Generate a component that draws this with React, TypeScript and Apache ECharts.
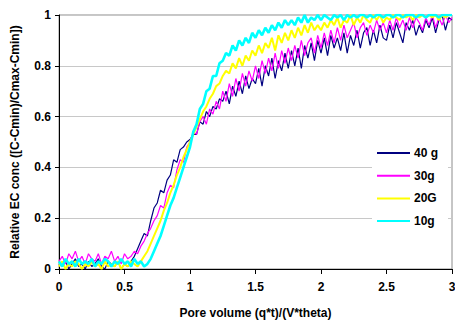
import React, { useEffect, useRef } from "react";
import * as echarts from "echarts";

const poreVolume = [
  0, 0.025, 0.05, 0.075, 0.1, 0.125, 0.15, 0.175, 0.2, 0.225,
  0.25, 0.275, 0.3, 0.325, 0.35, 0.375, 0.4, 0.425, 0.45, 0.475,
  0.5, 0.525, 0.55, 0.575, 0.6, 0.625, 0.65, 0.675, 0.7, 0.725,
  0.75, 0.775, 0.8, 0.825, 0.85, 0.875, 0.9, 0.925, 0.95, 0.975,
  1.0, 1.025, 1.05, 1.075, 1.1, 1.125, 1.15, 1.175, 1.2, 1.225,
  1.25, 1.275, 1.3, 1.325, 1.35, 1.375, 1.4, 1.425, 1.45, 1.475,
  1.5, 1.525, 1.55, 1.575, 1.6, 1.625, 1.65, 1.675, 1.7, 1.725,
  1.75, 1.775, 1.8, 1.825, 1.85, 1.875, 1.9, 1.925, 1.95, 1.975,
  2.0, 2.025, 2.05, 2.075, 2.1, 2.125, 2.15, 2.175, 2.2, 2.225,
  2.25, 2.275, 2.3, 2.325, 2.35, 2.375, 2.4, 2.425, 2.45, 2.475,
  2.5, 2.525, 2.55, 2.575, 2.6, 2.625, 2.65, 2.675, 2.7, 2.725,
  2.75, 2.775, 2.8, 2.825, 2.85, 2.875, 2.9, 2.925, 2.95, 2.975,
  3.0,
];

const conc40g = [
  0.02, 0.01, 0.03, 0.00, 0.02, 0.04, 0.01, 0.02, 0.00, 0.03,
  0.01, 0.02, 0.04, 0.01, 0.00, 0.03, 0.02, 0.01, 0.03, 0.00,
  0.02, 0.01, 0.03, 0.05, 0.08, 0.11, 0.14, 0.13, 0.19, 0.24,
  0.26, 0.31, 0.30, 0.35, 0.37, 0.43, 0.42, 0.47, 0.48, 0.50,
  0.51, 0.53, 0.53, 0.58, 0.57, 0.62, 0.60, 0.64, 0.63, 0.67,
  0.66, 0.70, 0.65, 0.72, 0.68, 0.74, 0.69, 0.76, 0.71, 0.75,
  0.73, 0.79, 0.72, 0.80, 0.76, 0.83, 0.75, 0.82, 0.78, 0.85,
  0.79, 0.86, 0.80, 0.87, 0.79, 0.88, 0.83, 0.89, 0.82, 0.90,
  0.85, 0.91, 0.84, 0.92, 0.87, 0.91, 0.86, 0.93, 0.85, 0.92,
  0.88, 0.94, 0.87, 0.93, 0.95, 0.88, 0.94, 0.89, 0.96, 0.91,
  0.90, 0.96, 0.91, 0.97, 0.93, 0.89, 0.97, 0.94, 0.98, 0.92,
  0.96, 0.93, 0.98, 0.95, 0.99, 0.93, 0.98, 1.00, 0.94, 0.99,
  0.98,
];

const conc30g = [
  0.03, 0.05, 0.02, 0.06, 0.04, 0.07, 0.03, 0.05, 0.02, 0.06,
  0.04, 0.03, 0.06, 0.02, 0.05, 0.04, 0.07, 0.03, 0.05, 0.02,
  0.06, 0.04, 0.05, 0.07, 0.06, 0.09, 0.11, 0.14, 0.16, 0.19,
  0.21, 0.25, 0.24, 0.30, 0.33, 0.32, 0.39, 0.43, 0.42, 0.48,
  0.50, 0.54, 0.53, 0.58, 0.60, 0.57, 0.63, 0.61, 0.66, 0.63,
  0.70, 0.66, 0.73, 0.68, 0.75, 0.70, 0.77, 0.72, 0.78, 0.74,
  0.80, 0.75, 0.82, 0.77, 0.83, 0.78, 0.85, 0.79, 0.86, 0.81,
  0.87, 0.82, 0.88, 0.83, 0.90, 0.84, 0.89, 0.91, 0.85, 0.92,
  0.87, 0.93, 0.88, 0.94, 0.89, 0.95, 0.90, 0.96, 0.91, 0.94,
  0.97, 0.91, 0.95, 0.97, 0.92, 0.96, 0.93, 0.98, 0.94, 0.97,
  0.93, 0.98, 0.94, 0.99, 0.95, 0.98, 0.94, 0.99, 0.95, 0.99,
  0.97, 0.94, 0.99, 0.96, 1.00, 0.95, 0.99, 0.96, 1.00, 0.97,
  0.99,
];

const conc20G = [
  0.01, 0.03, 0.00, 0.02, 0.01, 0.03, 0.02, 0.00, 0.02, 0.01,
  0.03, 0.01, 0.02, 0.00, 0.03, 0.01, 0.02, 0.01, 0.03, 0.00,
  0.02, 0.01, 0.03, 0.02, 0.01, 0.03, 0.05, 0.07, 0.10, 0.13,
  0.16, 0.19, 0.23, 0.26, 0.30, 0.33, 0.37, 0.40, 0.44, 0.47,
  0.50, 0.53, 0.56, 0.59, 0.62, 0.64, 0.67, 0.69, 0.72, 0.73,
  0.76, 0.78, 0.77, 0.81, 0.79, 0.83, 0.80, 0.84, 0.82, 0.86,
  0.84, 0.88, 0.85, 0.89, 0.87, 0.91, 0.86, 0.92, 0.89, 0.93,
  0.90, 0.94, 0.91, 0.95, 0.92, 0.96, 0.93, 0.97, 0.94, 0.96,
  0.94, 0.97, 0.95, 0.98, 0.96, 0.99, 0.95, 0.98, 0.97, 1.00,
  0.96, 0.99, 0.97, 1.00, 0.98, 0.97, 1.00, 0.98, 1.00, 0.97,
  0.99, 0.98, 1.00, 0.99, 0.98, 1.00, 0.99, 1.00, 0.98, 1.00,
  0.99, 1.00, 0.99, 1.00, 0.99, 1.00, 0.98, 1.00, 0.99, 1.00,
  1.00,
];

const conc10g = [
  0.03, 0.01, 0.04, 0.02, 0.03, 0.01, 0.04, 0.02, 0.03, 0.02,
  0.04, 0.01, 0.03, 0.02, 0.04, 0.03, 0.01, 0.03, 0.02, 0.04,
  0.02, 0.03, 0.01, 0.04, 0.02, 0.03, 0.01, 0.02, 0.04, 0.07,
  0.10, 0.13, 0.17, 0.21, 0.25, 0.28, 0.32, 0.36, 0.40, 0.44,
  0.48, 0.54, 0.57, 0.63, 0.65, 0.70, 0.71, 0.76, 0.76, 0.81,
  0.82, 0.85, 0.84, 0.88, 0.86, 0.90, 0.88, 0.91, 0.89, 0.93,
  0.91, 0.94, 0.92, 0.95, 0.93, 0.96, 0.94, 0.97, 0.95, 0.98,
  0.96, 0.98, 0.96, 0.99, 0.97, 1.00, 0.97, 0.99, 0.98, 1.00,
  0.98, 1.00, 0.99, 0.98, 1.00, 0.99, 1.00, 0.98, 1.00, 0.99,
  1.00, 0.99, 1.00, 1.00, 0.99, 1.00, 0.99, 1.00, 1.00, 0.99,
  1.00, 1.00, 0.99, 1.00, 1.00, 0.99, 1.00, 1.00, 1.00, 0.99,
  1.00, 1.00, 0.99, 1.00, 1.00, 1.00, 0.99, 1.00, 1.00, 1.00,
  1.00,
];

const seriesNames = ["40 g", "30g", "20G", "10g"];
const seriesColors = ["#000080", "#ff00ff", "#ffff00", "#00ffff"];
const seriesWidths = [1.2, 1.2, 2, 2.6];
const seriesValues = [conc40g, conc30g, conc20G, conc10g];

const FONT = "'Liberation Sans', Arial, sans-serif";

export default function App() {
  const ref = useRef<HTMLDivElement>(null);
  useEffect(() => {
    if (!ref.current) return;
    const chart = echarts.init(ref.current, undefined, { renderer: "svg" });
    chart.setOption({
      animation: false,
      backgroundColor: "#ffffff",
      grid: {
        left: 59,
        right: 3,
        top: 15,
        bottom: 53,
        outerBoundsMode: "none",
        containLabel: false,
        show: true,
        borderColor: "#8c8c8c",
        borderWidth: 1,
        backgroundColor: "transparent",
      },
      legend: {
        orient: "vertical",
        left: 372,
        top: 140,
        padding: [6, 10, 8, 5],
        backgroundColor: "#ffffff",
        itemWidth: 33,
        itemHeight: 2,
        itemGap: 8.7,
        icon: "rect",
        data: seriesNames,
        textStyle: {
          fontFamily: FONT,
          fontSize: 12,
          fontWeight: "bold",
          color: "#000",
          lineHeight: 14,
          padding: [0, 0, 0, -1],
        },
      },
      xAxis: {
        type: "value",
        min: 0,
        max: 3,
        interval: 0.5,
        name: "Pore volume (q*t)/(V*theta)",
        nameLocation: "middle",
        nameGap: 38,
        nameTextStyle: { fontFamily: FONT, fontSize: 12, fontWeight: "bold", color: "#000" },
        axisLine: { show: true, lineStyle: { color: "#000", width: 1 } },
        axisTick: { show: true, length: 5, lineStyle: { color: "#000" } },
        axisLabel: { fontFamily: FONT, fontSize: 12, fontWeight: "bold", color: "#000", margin: 12 },
        splitLine: { show: false },
      },
      yAxis: {
        type: "value",
        min: 0,
        max: 1,
        interval: 0.2,
        name: "Relative EC conc ([C-Cmin)/Cmax-Cmin])",
        nameLocation: "middle",
        nameGap: 38,
        nameTextStyle: { fontFamily: FONT, fontSize: 12, fontWeight: "bold", color: "#000" },
        axisLine: { show: true, lineStyle: { color: "#000", width: 1 } },
        axisTick: { show: true, length: 4, lineStyle: { color: "#000" } },
        axisLabel: { fontFamily: FONT, fontSize: 12, fontWeight: "bold", color: "#000", margin: 8 },
        splitLine: { show: true, lineStyle: { color: "#c8c8c8", width: 1 } },
      },
      series: seriesNames.map((name, k) => ({
        name,
        type: "line",
        showSymbol: false,
        symbol: "none",
        color: seriesColors[k],
        lineStyle: { color: seriesColors[k], width: seriesWidths[k] },
        data: poreVolume.map((x, i) => [x, seriesValues[k][i]]),
      })),
    });
    return () => chart.dispose();
  }, []);
  return (
    <div
      ref={ref}
      style={{ position: "fixed", left: 0, top: 0, width: 455, height: 322, background: "#fff" }}
    />
  );
}
